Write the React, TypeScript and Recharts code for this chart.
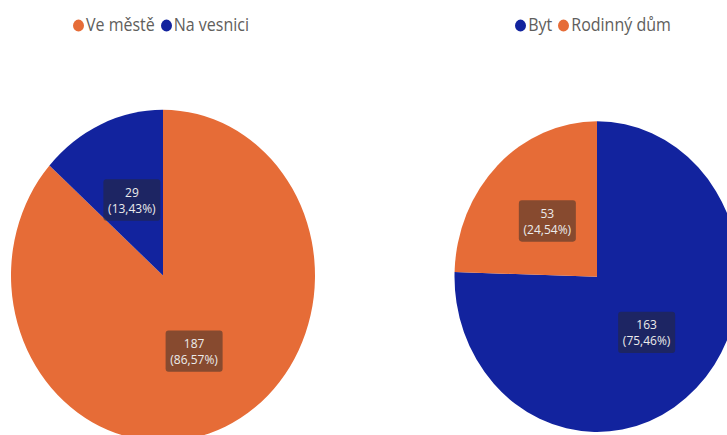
import React from 'react';
import { PieChart, Pie, Cell, Legend } from 'recharts';

// left chart: where people live
const placeNames = ['Ve městě', 'Na vesnici'];
const placeValues = [187, 29];
const placeColors = ['#E66C37', '#12239E'];

// right chart: type of housing
const houseNames = ['Byt', 'Rodinný dům'];
const houseValues = [163, 53];
const houseColors = ['#12239E', '#E66C37'];

const FONT = '"Open Sans", "Noto Sans", sans-serif';
const RADIAN = Math.PI / 180;

const renderLabel = (props: any) => {
  const { cx, cy, midAngle, outerRadius, value, percent } = props;
  const r = outerRadius * 0.5;
  const x = cx + r * Math.cos(-midAngle * RADIAN);
  const y = cy + r * Math.sin(-midAngle * RADIAN);
  const pct = (percent * 100).toFixed(2).replace('.', ',');
  return (
    <g>
      <rect x={x - 28.5} y={y - 19} width={57} height={38} rx={3} fill="rgba(40,40,40,0.5)" />
      <text x={x} y={y - 3} textAnchor="middle" fill="#ececec" fontSize={12} fontFamily={FONT}>
        <tspan x={x}>{value}</tspan>
        <tspan x={x} dy={15}>({pct}%)</tspan>
      </text>
    </g>
  );
};

const renderLegend = (names: string[], colors: string[]) => () => (
  <div style={{ textAlign: 'center', fontFamily: FONT, fontSize: 16, color: '#605E5C', lineHeight: '20px', whiteSpace: 'nowrap' }}>
    {names.map((n, i) => (
      <span key={n} style={{ marginRight: i < names.length - 1 ? 6 : 0 }}>
        <span style={{ display: 'inline-block', width: 11, height: 11, borderRadius: '50%', background: colors[i], marginRight: 2, verticalAlign: '-1px' }} />
        {n}
      </span>
    ))}
  </div>
);

const placeData = placeNames.map((name, i) => ({ name, value: placeValues[i] }));
const houseData = houseNames.map((name, i) => ({ name, value: houseValues[i] }));

export default function App() {
  return (
    <div style={{ position: 'absolute', left: 0, top: 0, width: 727, height: 435, overflow: 'hidden', background: '#fff' }}>
      <div style={{ position: 'relative', width: 727, height: 400, transform: 'scaleY(1.09)', transformOrigin: '0 0' }}>
        <div style={{ position: 'absolute', left: 0, top: 0 }}>
          <PieChart width={330} height={400} margin={{ top: 0, right: 0, bottom: 0, left: 0 }}>
            <Legend verticalAlign="top" content={renderLegend(placeNames, placeColors)} wrapperStyle={{ top: 12, left: 11, width: 300 }} />
            <Pie
              data={placeData}
              dataKey="value"
              cx={163}
              cy={231}
              outerRadius={152}
              startAngle={90}
              endAngle={-270}
              stroke="none"
              labelLine={false}
              label={renderLabel}
              isAnimationActive={false}
            >
              {placeData.map((d, i) => (
                <Cell key={d.name} fill={placeColors[i]} />
              ))}
            </Pie>
          </PieChart>
        </div>
        <div style={{ position: 'absolute', left: 363, top: 0 }}>
          <PieChart width={364} height={400} margin={{ top: 0, right: 0, bottom: 0, left: 0 }}>
            <Legend verticalAlign="top" content={renderLegend(houseNames, houseColors)} wrapperStyle={{ top: 12, left: 80, width: 300 }} />
            <Pie
              data={houseData}
              dataKey="value"
              cx={234}
              cy={232}
              outerRadius={142.5}
              startAngle={90}
              endAngle={-270}
              stroke="none"
              labelLine={false}
              label={renderLabel}
              isAnimationActive={false}
            >
              {houseData.map((d, i) => (
                <Cell key={d.name} fill={houseColors[i]} />
              ))}
            </Pie>
          </PieChart>
        </div>
      </div>
    </div>
  );
}
